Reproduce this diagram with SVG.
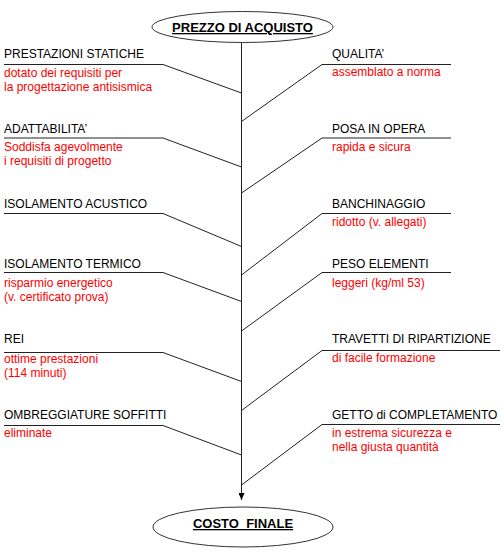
<svg xmlns="http://www.w3.org/2000/svg" width="504" height="552" viewBox="0 0 504 552">
<style>
text{font-family:"Liberation Sans",Arial,sans-serif;font-size:12px}
.t{fill:#000}
.r{fill:#ff0000}
.h{font-size:13px;font-weight:bold;text-decoration:underline;fill:#000}
.e{fill:#fff;stroke:#333;stroke-width:1}
.c{fill:none;stroke:#222;stroke-width:1}
</style>
<defs>
<marker id="ah" markerWidth="7" markerHeight="6" refX="7" refY="3" orient="auto" markerUnits="userSpaceOnUse" viewBox="0 0 7 6">
<path d="M0,0 L7,3 L0,6 Z" fill="#000"/>
</marker>
</defs>
<g id="connectors">
<line class="c" x1="241.5" y1="43" x2="241.5" y2="500" marker-end="url(#ah)"/>
<polyline class="c" points="4,64.5 163,64.5 241.5,93"/>
<polyline class="c" points="4,138 163,138 241.5,167"/>
<polyline class="c" points="4,213.5 163,213.5 241.5,246.5"/>
<polyline class="c" points="4,272.5 163,272.5 241.5,301.5"/>
<polyline class="c" points="4,352.5 163,352.5 241.5,381.5"/>
<polyline class="c" points="4,425.5 163,425.5 241.5,455"/>
<polyline class="c" points="451,64.5 322,64.5 241.5,121.5"/>
<polyline class="c" points="451,138 322,138 241.5,193"/>
<polyline class="c" points="451,213.5 322,213.5 241.5,275"/>
<polyline class="c" points="451,272.5 322,272.5 241.5,331"/>
<polyline class="c" points="500,350.5 322,350.5 241.5,410.5"/>
<polyline class="c" points="500,424.5 322,424.5 241.5,485"/>
</g>
<g id="prezzo">
<ellipse class="e" cx="242.5" cy="27" rx="90.5" ry="15.5"/>
<text class="h" x="242.5" y="32" text-anchor="middle">PREZZO DI ACQUISTO</text>
</g>
<g id="costo">
<ellipse class="e" cx="243" cy="527" rx="90" ry="20"/>
<text class="h" x="243" y="528" text-anchor="middle" xml:space="preserve">COSTO  FINALE</text>
</g>
<g id="prestazioni">
<text class="t" x="4" y="57.5">PRESTAZIONI STATICHE</text>
<text class="r" x="4" y="76.5">dotato dei requisiti per</text>
<text class="r" x="4" y="90.5">la progettazione antisismica</text>
</g>
<g id="adattabilita">
<text class="t" x="4" y="133">ADATTABILITA’</text>
<text class="r" x="4" y="151">Soddisfa agevolmente</text>
<text class="r" x="4" y="165">i requisiti di progetto</text>
</g>
<g id="acustico">
<text class="t" x="4" y="207.5">ISOLAMENTO ACUSTICO</text>
</g>
<g id="termico">
<text class="t" x="4" y="267.5">ISOLAMENTO TERMICO</text>
<text class="r" x="4" y="286.5">risparmio energetico</text>
<text class="r" x="4" y="300.5">(v. certificato prova)</text>
</g>
<g id="rei">
<text class="t" x="4" y="342.5">REI</text>
<text class="r" x="4" y="363">ottime prestazioni</text>
<text class="r" x="4" y="376.5">(114 minuti)</text>
</g>
<g id="ombreggiature">
<text class="t" x="4" y="419">OMBREGGIATURE SOFFITTI</text>
<text class="r" x="4" y="437">eliminate</text>
</g>
<g id="qualita">
<text class="t" x="332" y="58">QUALITA’</text>
<text class="r" x="332" y="76">assemblato a norma</text>
</g>
<g id="posa">
<text class="t" x="332" y="132.5">POSA IN OPERA</text>
<text class="r" x="332" y="151">rapida e sicura</text>
</g>
<g id="banchinaggio">
<text class="t" x="332" y="207.5">BANCHINAGGIO</text>
<text class="r" x="332" y="226">ridotto (v. allegati)</text>
</g>
<g id="peso">
<text class="t" x="332" y="268">PESO ELEMENTI</text>
<text class="r" x="332" y="286.5">leggeri (kg/ml 53)</text>
</g>
<g id="travetti">
<text class="t" x="332" y="343">TRAVETTI DI RIPARTIZIONE</text>
<text class="r" x="332" y="362">di facile formazione</text>
</g>
<g id="getto">
<text class="t" x="332" y="419">GETTO di COMPLETAMENTO</text>
<text class="r" x="332" y="437">in estrema sicurezza e</text>
<text class="r" x="332" y="450.5">nella giusta quantità</text>
</g>
</svg>
